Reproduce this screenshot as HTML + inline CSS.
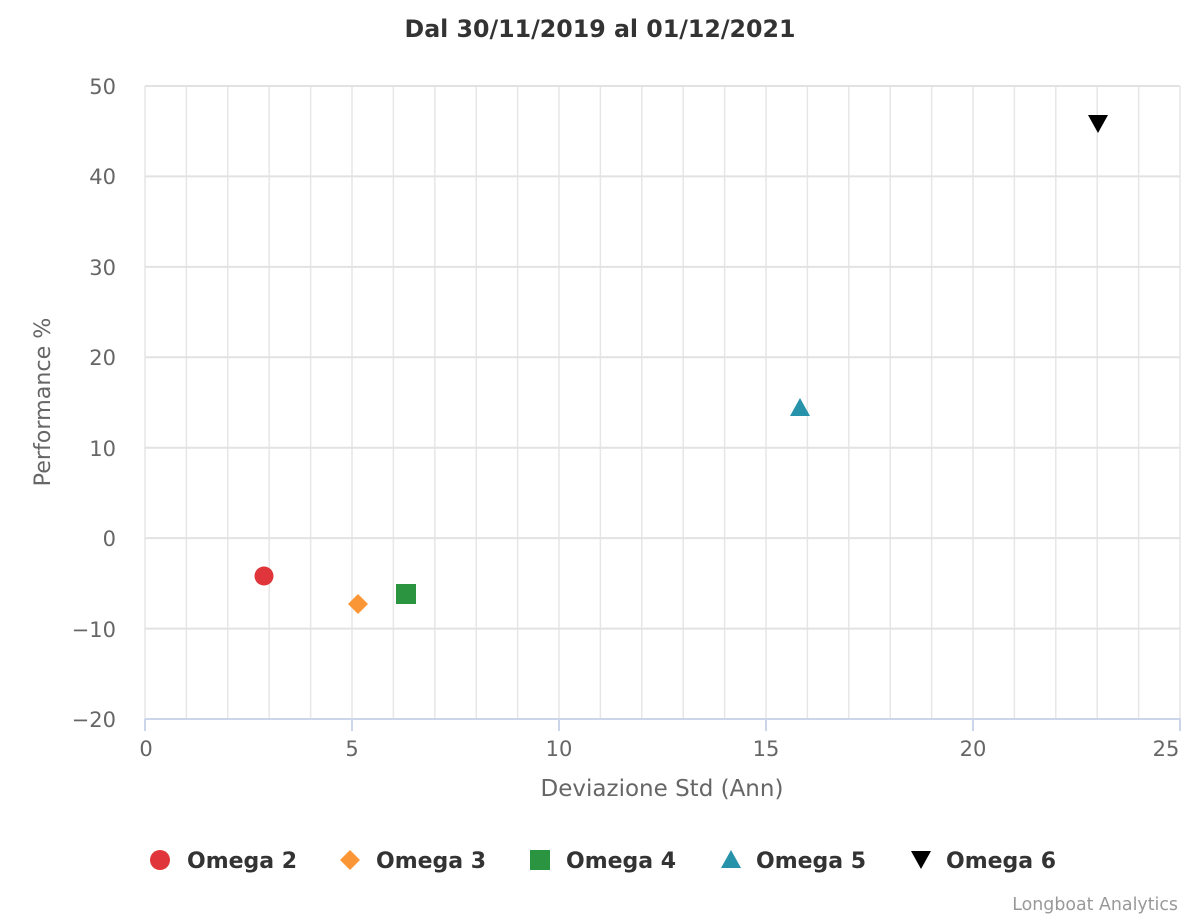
<!DOCTYPE html>
<html><head><meta charset="utf-8"><style>body{margin:0;background:#fff}svg{display:block;font-family:"DejaVu Sans","Liberation Sans",sans-serif}</style></head>
<body>
<svg width="1200" height="920" xmlns="http://www.w3.org/2000/svg">
<rect width="1200" height="920" fill="#fff"/>
<text x="600" y="37" text-anchor="middle" font-size="23.7" font-weight="bold" fill="#333">Dal 30/11/2019 al 01/12/2021</text>
<g stroke="#e6e6e6" stroke-width="1.5">
<line x1="145" y1="86" x2="145" y2="719"/><line x1="186.4" y1="86" x2="186.4" y2="719"/><line x1="227.8" y1="86" x2="227.8" y2="719"/><line x1="269.2" y1="86" x2="269.2" y2="719"/><line x1="310.6" y1="86" x2="310.6" y2="719"/><line x1="352" y1="86" x2="352" y2="719"/><line x1="393.4" y1="86" x2="393.4" y2="719"/><line x1="434.8" y1="86" x2="434.8" y2="719"/><line x1="476.2" y1="86" x2="476.2" y2="719"/><line x1="517.6" y1="86" x2="517.6" y2="719"/><line x1="559" y1="86" x2="559" y2="719"/><line x1="600.4" y1="86" x2="600.4" y2="719"/><line x1="641.8" y1="86" x2="641.8" y2="719"/><line x1="683.2" y1="86" x2="683.2" y2="719"/><line x1="724.6" y1="86" x2="724.6" y2="719"/><line x1="766" y1="86" x2="766" y2="719"/><line x1="807.4" y1="86" x2="807.4" y2="719"/><line x1="848.8" y1="86" x2="848.8" y2="719"/><line x1="890.2" y1="86" x2="890.2" y2="719"/><line x1="931.6" y1="86" x2="931.6" y2="719"/><line x1="973" y1="86" x2="973" y2="719"/><line x1="1014.4" y1="86" x2="1014.4" y2="719"/><line x1="1055.8" y1="86" x2="1055.8" y2="719"/><line x1="1097.2" y1="86" x2="1097.2" y2="719"/><line x1="1138.6" y1="86" x2="1138.6" y2="719"/><line x1="1180" y1="86" x2="1180" y2="719"/>
</g>
<g stroke="#e2e2e2" stroke-width="2">
<line x1="145" y1="86" x2="1180" y2="86"/><line x1="145" y1="176.4" x2="1180" y2="176.4"/><line x1="145" y1="266.9" x2="1180" y2="266.9"/><line x1="145" y1="357.3" x2="1180" y2="357.3"/><line x1="145" y1="447.7" x2="1180" y2="447.7"/><line x1="145" y1="538.1" x2="1180" y2="538.1"/><line x1="145" y1="628.6" x2="1180" y2="628.6"/>
</g>
<g stroke="#ccd6eb" stroke-width="2">
<line x1="145" y1="719" x2="1181" y2="719"/>
<line x1="145" y1="719" x2="145" y2="731"/><line x1="352" y1="719" x2="352" y2="731"/><line x1="559" y1="719" x2="559" y2="731"/><line x1="766" y1="719" x2="766" y2="731"/><line x1="973" y1="719" x2="973" y2="731"/><line x1="1180" y1="719" x2="1180" y2="731"/>
</g>
<g font-size="21" fill="#666" text-anchor="end">
<text x="116" y="94">50</text><text x="116" y="184">40</text><text x="116" y="275">30</text><text x="116" y="365">20</text><text x="116" y="456">10</text><text x="116" y="546">0</text><text x="116" y="637">−10</text><text x="116" y="727">−20</text>
</g>
<g font-size="21" fill="#666" text-anchor="middle">
<text x="146" y="756">0</text><text x="352" y="756">5</text><text x="559" y="756">10</text><text x="766" y="756">15</text><text x="973" y="756">20</text><text x="1166" y="756">25</text>
</g>
<text x="662" y="796" text-anchor="middle" font-size="23" fill="#666">Deviazione Std (Ann)</text>
<text transform="translate(50,402) rotate(-90)" text-anchor="middle" font-size="22.2" fill="#666">Performance %</text>
<circle cx="264" cy="576" r="9.5" fill="#e0353b"/>
<polygon points="358,594 368,604 358,614 348,604" fill="#fb9637"/>
<rect x="396" y="584" width="20" height="20" fill="#2b9440"/>
<polygon points="800,398 810,416 790,416" fill="#2693ab"/>
<polygon points="1088,115 1108,115 1098,133" fill="#000"/>
<g font-size="22" font-weight="bold" fill="#333">
<circle cx="160" cy="860" r="10" fill="#e0353b"/><text x="187" y="868">Omega 2</text>
<polygon points="350,850 360,860 350,870 340,860" fill="#fb9637"/><text x="376" y="868">Omega 3</text>
<rect x="530" y="850" width="20" height="20" fill="#2b9440"/><text x="566" y="868">Omega 4</text>
<polygon points="731,850 741,868 721,868" fill="#2693ab"/><text x="756" y="868">Omega 5</text>
<polygon points="911,851 931,851 921,869" fill="#000"/><text x="946" y="868">Omega 6</text>
</g>
<text x="1178" y="910" text-anchor="end" font-size="17.4" fill="#999">Longboat Analytics</text>
</svg>
</body></html>
